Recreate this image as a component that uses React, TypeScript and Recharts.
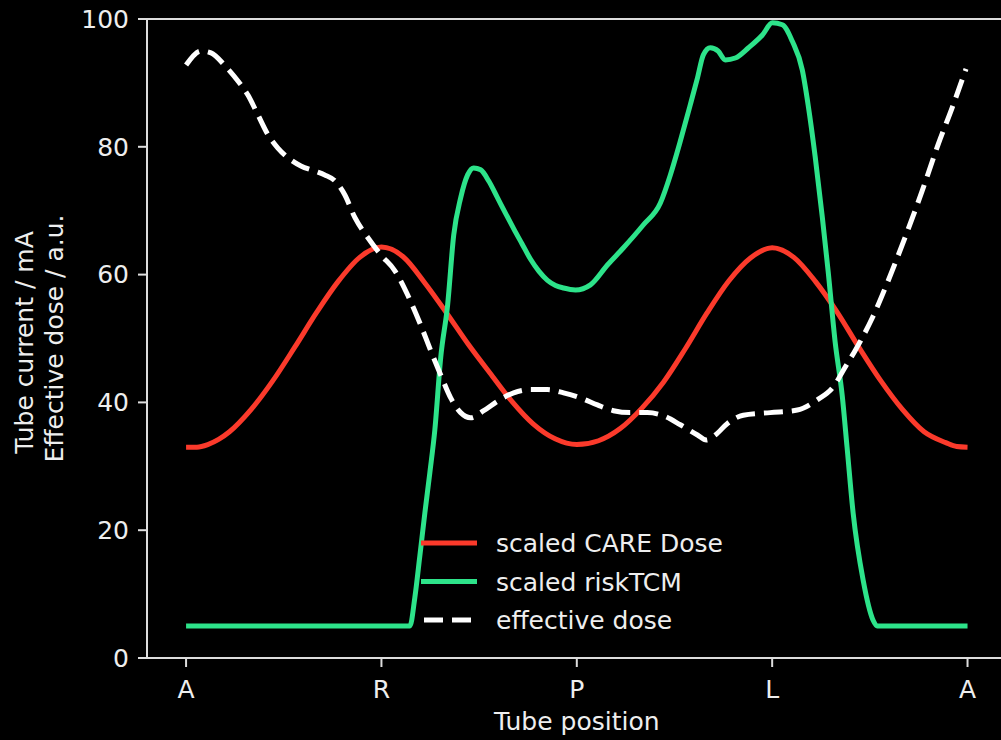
import React from 'react';
import { LineChart, Line, XAxis, YAxis, Legend, ReferenceLine } from 'recharts';

// Tube angle in degrees (A=0, R=90, P=180, L=270, A=360)
const xTicks = [0, 90, 180, 270, 360];
const xTickLabels = ['A', 'R', 'P', 'L', 'A'];
const yTicks = [0, 20, 40, 60, 80, 100];

const careDeg = [0, 5, 10, 15, 20, 30, 40, 50, 60, 70, 80, 90, 100, 110, 120, 130, 140, 150, 160, 170, 180, 190, 200, 210, 220, 230, 240, 250, 260, 270, 280, 290, 300, 310, 320, 330, 340, 350, 355, 360];
const careDose = [33.0, 33.0, 33.4, 34.2, 35.4, 38.9, 43.4, 48.6, 54.0, 58.9, 62.7, 64.3, 62.8, 58.7, 54.0, 49.1, 44.6, 40.2, 36.6, 34.3, 33.4, 34.0, 35.9, 39.1, 43.2, 48.4, 54.0, 59.0, 62.6, 64.2, 62.7, 58.9, 54.1, 48.6, 43.4, 38.9, 35.4, 33.7, 33.1, 33.0];

const riskDeg = [0, 103.1, 105.4, 107.7, 110.0, 112.3, 114.6, 117.3, 120.5, 123.3, 126.5, 129.7, 132.5, 135.7, 139.5, 143.5, 147.0, 150.9, 154.8, 158.7, 162.6, 166.5, 170.2, 173.9, 179.4, 186.3, 194.1, 201.5, 210.7, 218.5, 223.1, 227.7, 232.3, 235.6, 238.3, 241.5, 245.1, 248.4, 253.0, 259.1, 265.5, 270.1, 274.7, 279.3, 283.9, 286.6, 289.8, 293.1, 295.8, 299.0, 302.3, 304.5, 307.3, 311.9, 316.5, 318.4, 360];
const riskTCM = [5.0, 5.0, 9.5, 16.0, 22.7, 29.0, 35.7, 47.0, 55.3, 66.2, 72.0, 75.6, 76.7, 76.4, 74.6, 72.0, 69.7, 67.2, 64.8, 62.4, 60.5, 59.1, 58.3, 57.9, 57.6, 58.4, 61.5, 64.2, 67.8, 71.2, 75.6, 80.9, 86.6, 90.8, 94.4, 95.5, 95.0, 93.6, 93.9, 95.5, 97.5, 99.4, 99.1, 96.5, 92.0, 86.5, 78.5, 69.0, 60.5, 49.5, 41.0, 33.0, 22.7, 12.2, 5.9, 5.0, 5.0];

const doseDeg = [0, 6.9, 11.5, 17.9, 23.9, 28.5, 33.1, 37.7, 42.3, 46.9, 52.9, 59.3, 63.9, 68.5, 73.1, 77.8, 83.7, 89.7, 96.2, 102.1, 108.1, 112.7, 117.3, 121.9, 126.5, 131.1, 137.1, 143.5, 150.9, 158.7, 166.5, 173.9, 181.7, 189.5, 196.9, 204.7, 212.5, 219.9, 227.7, 235.6, 239.7, 243.8, 249.4, 256.7, 269.1, 281.6, 290.8, 298.1, 303.6, 308.2, 316.1, 323.4, 331.2, 339.1, 346.4, 352.9, 359.3];
const effDose = [92.8, 95.0, 94.7, 92.7, 90.3, 88.1, 85.0, 81.9, 79.8, 78.3, 77.0, 76.2, 75.6, 74.7, 72.5, 68.9, 65.8, 63.1, 60.6, 56.8, 52.1, 48.1, 44.3, 40.7, 38.4, 37.6, 38.7, 40.2, 41.5, 42.0, 42.0, 41.5, 40.7, 39.6, 38.7, 38.4, 38.4, 37.9, 36.5, 34.9, 34.1, 34.9, 36.7, 38.0, 38.4, 38.8, 40.4, 42.4, 45.5, 48.1, 53.2, 59.0, 65.8, 73.1, 80.3, 86.1, 92.2];

const seriesNames = ['scaled CARE Dose', 'scaled riskTCM', 'effective dose'];
const seriesColors = ['#fb3a2b', '#2de38a', '#ffffff'];
const seriesDash = ['', '', '19 9'];

const careData = careDeg.map((d, i) => ({ deg: d, v: careDose[i] }));
const riskData = riskDeg.map((d, i) => ({ deg: d, v: riskTCM[i] }));
const doseData = doseDeg.map((d, i) => ({ deg: d, v: effDose[i] }));

const FONT = '"DejaVu Sans", sans-serif';
const TEXT = '#eeeeee';
const AXIS = '#dddddd';
const FS = 25;

const renderLegend = () => (
  <svg width={340} height={120} style={{ display: 'block' }}>
    {seriesNames.map((name, i) => {
      const cy = 19 + i * 38.5;
      return (
        <g key={name}>
          <line x1={1} x2={57} y1={cy} y2={cy} stroke={seriesColors[i]} strokeWidth={5}
            strokeDasharray={seriesDash[i] || undefined} strokeDashoffset={seriesDash[i] ? -3 : undefined} />
          <text x={76} y={cy + 9} fill={TEXT} fontSize={FS} fontFamily={FONT}>{name}</text>
        </g>
      );
    })}
  </svg>
);

const renderYLabel = (props: any) => {
  const vb = props.viewBox || {};
  const cy = (vb.y ?? 19) + (vb.height ?? 639) / 2;
  return (
    <g>
      <text transform={`translate(33, ${cy + 4}) rotate(-90)`} textAnchor="middle" fill={TEXT} fontSize={FS} fontFamily={FONT}>Tube current / mA</text>
      <text transform={`translate(63, ${cy}) rotate(-90)`} textAnchor="middle" fill={TEXT} fontSize={FS} fontFamily={FONT}>Effective dose / a.u.</text>
    </g>
  );
};

export default function App() {
  return (
    <div style={{ position: 'absolute', left: 0, top: 0, width: 1001, height: 740, overflow: 'hidden', background: '#000' }}>
      <LineChart width={1020} height={740} margin={{ top: 19, right: 13.4, bottom: 0, left: 0 }} style={{ background: '#000' }}>
        <XAxis
          xAxisId="main"
          dataKey="deg"
          type="number"
          domain={[-18, 378]}
          ticks={xTicks}
          tickFormatter={(v: number) => xTickLabels[xTicks.indexOf(v)] ?? ''}
          allowDataOverflow
          height={82}
          stroke={AXIS}
          strokeWidth={2}
          tickSize={9}
          tickMargin={13}
          tick={{ fill: TEXT, fontSize: FS, fontFamily: FONT }}
          tickLine={{ stroke: AXIS, strokeWidth: 2 }}
          label={{ value: 'Tube position', position: 'insideBottom', offset: 10, fill: TEXT, fontSize: FS, fontFamily: FONT }}
        />
        <YAxis
          yAxisId="main"
          type="number"
          domain={[0, 100]}
          ticks={yTicks}
          width={147}
          stroke={AXIS}
          strokeWidth={2}
          tickSize={9}
          tickMargin={9}
          tick={{ fill: TEXT, fontSize: FS, fontFamily: FONT }}
          tickLine={{ stroke: AXIS, strokeWidth: 2 }}
          label={renderYLabel}
        />
        <ReferenceLine xAxisId="main" yAxisId="main" y={100} stroke={AXIS} strokeWidth={2} />
        <Line xAxisId="main" yAxisId="main" data={careData} dataKey="v" name={seriesNames[0]} type="monotone" stroke={seriesColors[0]} strokeWidth={5} dot={false} isAnimationActive={false} />
        <Line xAxisId="main" yAxisId="main" data={riskData} dataKey="v" name={seriesNames[1]} type="monotone" stroke={seriesColors[1]} strokeWidth={5} dot={false} isAnimationActive={false} />
        <Line xAxisId="main" yAxisId="main" data={doseData} dataKey="v" name={seriesNames[2]} type="monotone" stroke={seriesColors[2]} strokeWidth={5} strokeDasharray={seriesDash[2]} dot={false} isAnimationActive={false} />
        <Legend layout="vertical" align="center" verticalAlign="middle" content={renderLegend}
          wrapperStyle={{ position: 'absolute', left: 420, top: 524, width: 340, height: 120 }} />
      </LineChart>
    </div>
  );
}
